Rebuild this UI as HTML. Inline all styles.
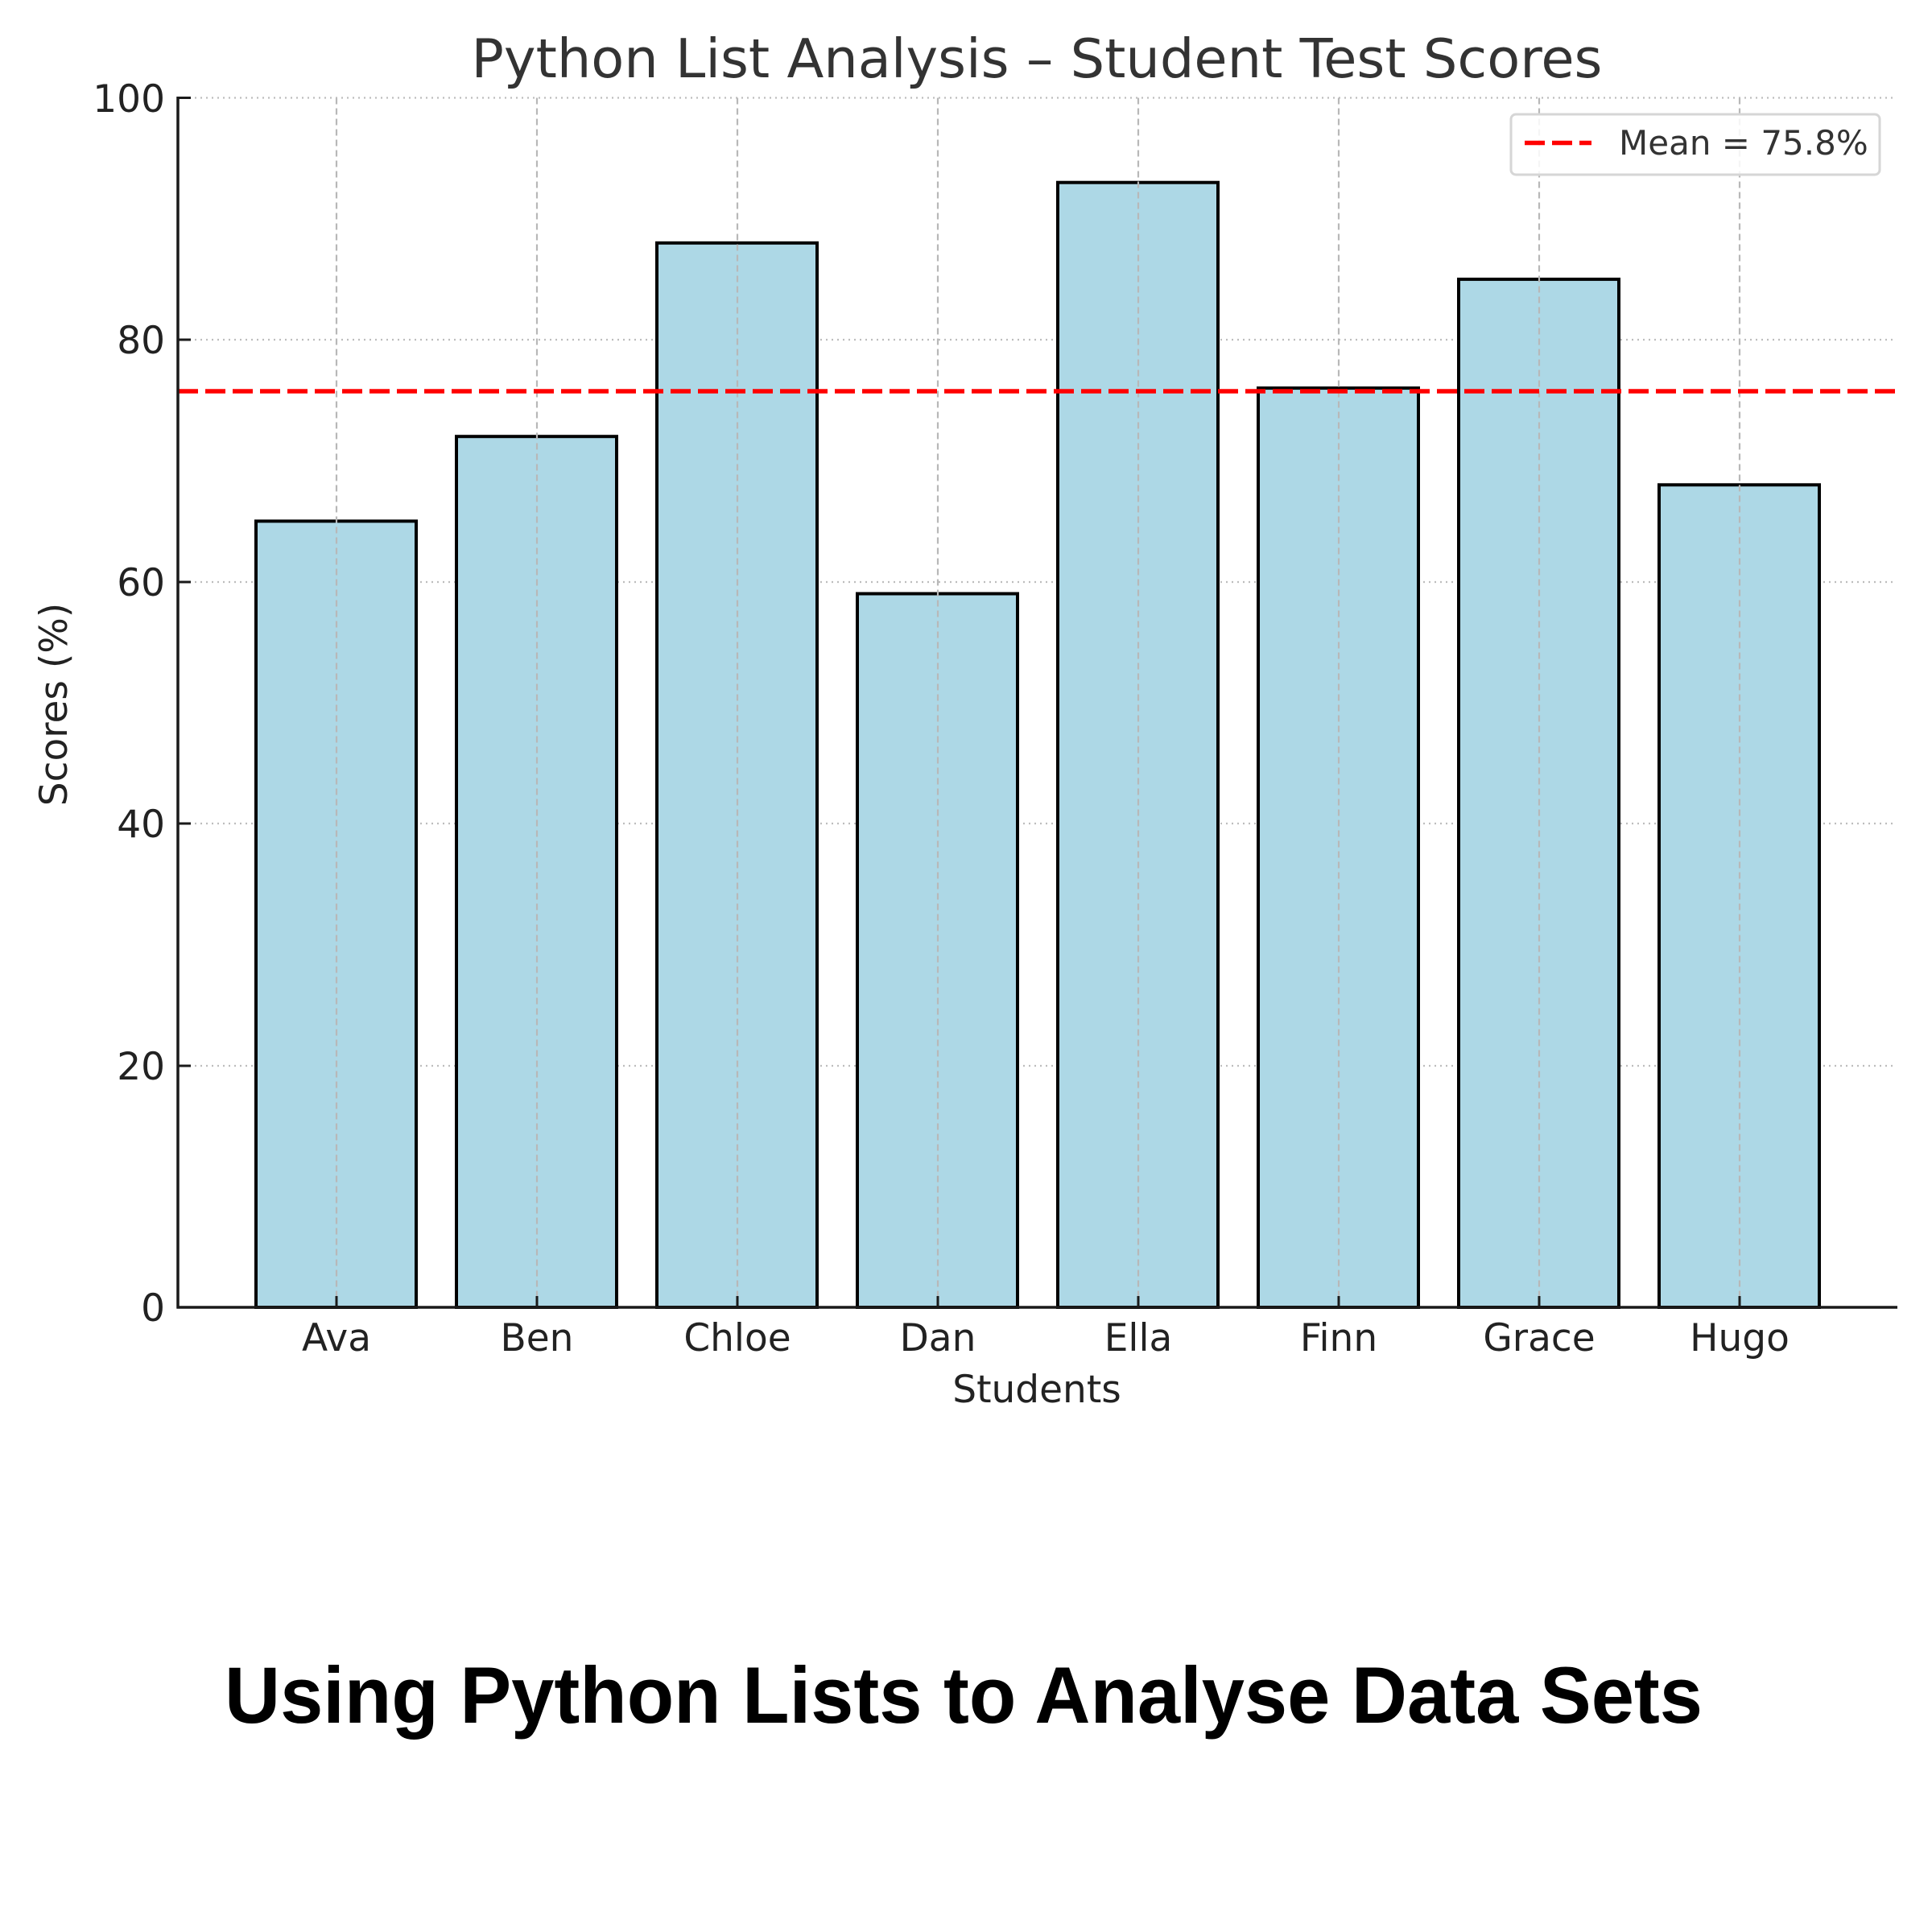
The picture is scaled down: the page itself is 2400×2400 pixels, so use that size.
<!DOCTYPE html>
<html><head><meta charset="utf-8"><style>html,body{margin:0;padding:0;background:#fff}svg{display:block}</style></head>
<body>
<svg width="2400" height="2400" viewBox="0 0 2400 2400" xmlns="http://www.w3.org/2000/svg" font-family="'DejaVu Sans','Liberation Sans',sans-serif">
<rect width="2400" height="2400" fill="#fff"/>
<g stroke="#bdbdbd" stroke-width="2.2" stroke-dasharray="2,5">
<line x1="221" x2="2356" y1="121.5" y2="121.5"/>
<line x1="221" x2="2356" y1="422" y2="422"/>
<line x1="221" x2="2356" y1="723" y2="723"/>
<line x1="221" x2="2356" y1="1023" y2="1023"/>
<line x1="221" x2="2356" y1="1324" y2="1324"/>
</g>
<g fill="#add8e6" stroke="#000" stroke-width="4">
<rect x="318" y="647.4" width="199" height="976.6"/>
<rect x="567" y="542.2" width="199" height="1081.8"/>
<rect x="816" y="301.8" width="199" height="1322.2"/>
<rect x="1065" y="737.5" width="199" height="886.5"/>
<rect x="1314" y="226.7" width="199" height="1397.3"/>
<rect x="1563" y="482.1" width="199" height="1141.9"/>
<rect x="1812" y="346.9" width="199" height="1277.1"/>
<rect x="2061" y="602.3" width="199" height="1021.7"/>
</g>
<g stroke="#b8b8b8" stroke-width="2.2" stroke-dasharray="8,5">
<line x1="418" x2="418" y1="121.5" y2="1624"/>
<line x1="667" x2="667" y1="121.5" y2="1624"/>
<line x1="916" x2="916" y1="121.5" y2="1624"/>
<line x1="1165" x2="1165" y1="121.5" y2="1624"/>
<line x1="1414" x2="1414" y1="121.5" y2="1624"/>
<line x1="1663" x2="1663" y1="121.5" y2="1624"/>
<line x1="1912" x2="1912" y1="121.5" y2="1624"/>
<line x1="2161" x2="2161" y1="121.5" y2="1624"/>
</g>
<line x1="221" x2="2356" y1="486" y2="486" stroke="#ff0000" stroke-width="5.5" stroke-dasharray="25,9"/>
<g stroke="#1a1a1a" stroke-width="3.5">
<line x1="221" y1="120" x2="221" y2="1625.5"/>
<line x1="219.5" y1="1624" x2="2357" y2="1624"/>
</g>
<g stroke="#1a1a1a" stroke-width="3">
<line x1="221" x2="237" y1="121.5" y2="121.5"/>
<line x1="221" x2="237" y1="422" y2="422"/>
<line x1="221" x2="237" y1="723" y2="723"/>
<line x1="221" x2="237" y1="1023" y2="1023"/>
<line x1="221" x2="237" y1="1324" y2="1324"/>
<line x1="418" x2="418" y1="1624" y2="1610"/>
<line x1="667" x2="667" y1="1624" y2="1610"/>
<line x1="916" x2="916" y1="1624" y2="1610"/>
<line x1="1165" x2="1165" y1="1624" y2="1610"/>
<line x1="1414" x2="1414" y1="1624" y2="1610"/>
<line x1="1663" x2="1663" y1="1624" y2="1610"/>
<line x1="1912" x2="1912" y1="1624" y2="1610"/>
<line x1="2161" x2="2161" y1="1624" y2="1610"/>
</g>
<g fill="#222" font-size="47" text-anchor="end">
<text x="205" y="139">100</text>
<text x="205" y="439">80</text>
<text x="205" y="740">60</text>
<text x="205" y="1040">40</text>
<text x="205" y="1341">20</text>
<text x="205" y="1641">0</text>
</g>
<g fill="#222" font-size="47" text-anchor="middle">
<text x="418" y="1678">Ava</text>
<text x="667" y="1678">Ben</text>
<text x="916" y="1678">Chloe</text>
<text x="1165" y="1678">Dan</text>
<text x="1414" y="1678">Ella</text>
<text x="1663" y="1678">Finn</text>
<text x="1912" y="1678">Grace</text>
<text x="2161" y="1678">Hugo</text>
</g>
<text x="1288" y="1742" fill="#222" font-size="47" text-anchor="middle">Students</text>
<text transform="translate(83,875) rotate(-90)" fill="#222" font-size="47" text-anchor="middle">Scores (%)</text>
<text x="1288" y="96" fill="#333" font-size="67" text-anchor="middle">Python List Analysis – Student Test Scores</text>
<rect x="1877" y="142" width="458" height="75" rx="6" fill="#fff" fill-opacity="0.85" stroke="#d6d6d6" stroke-width="3"/>
<line x1="1894" x2="1977" y1="177.5" y2="177.5" stroke="#ff0000" stroke-width="5.5" stroke-dasharray="25,9"/>
<text x="2011" y="192" fill="#333" font-size="42">Mean = 75.8%</text>
<text x="1197" y="2140" fill="#000" font-family="'Liberation Sans',Arial,sans-serif" font-weight="bold" font-size="99" text-anchor="middle" textLength="1836" lengthAdjust="spacingAndGlyphs">Using Python Lists to Analyse Data Sets</text>
</svg>
</body></html>
